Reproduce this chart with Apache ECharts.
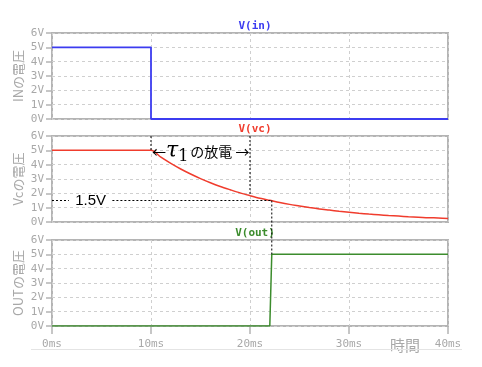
<!DOCTYPE html>
<html><head><meta charset="utf-8">
<script src="https://cdn.jsdelivr.net/npm/echarts@6/dist/echarts.min.js"></script>
<style>html,body{margin:0;padding:0;background:#fff}#c{width:482px;height:367px}</style>
</head><body><div id="c"></div>
<script>
// ---- data ----
const xTicks = [0, 10, 20, 30, 40];          // ms
const yTicks = [0, 1, 2, 3, 4, 5, 6];        // V
const panelTitles = ['V(in)', 'V(vc)', 'V(out)'];
const yNames = ['INの電圧', 'Vcの電圧', 'OUTの電圧'];
const xName = '時間';

const inTime = [0, 10, 10, 40];
const inVolt = [5, 5, 0, 0];

const vcTime = [0, 10, 11, 12, 13, 14, 15, 16, 17, 18, 19, 20, 21, 22, 23, 24, 25, 26, 27, 28, 29, 30, 31, 32, 33, 34, 35, 36, 37, 38, 39, 40];
const vcVolt = [5, 5, 4.52, 4.09, 3.70, 3.35, 3.03, 2.74, 2.48, 2.25, 2.03, 1.84, 1.66, 1.51, 1.36, 1.23, 1.12, 1.01, 0.91, 0.83, 0.75, 0.68, 0.61, 0.55, 0.50, 0.45, 0.41, 0.37, 0.34, 0.30, 0.28, 0.25];

const outTime = [0, 22.0, 22.2, 40];
const outVolt = [0, 0, 5, 5];

// annotation values
const tauStart = 10, tauEnd = 20, tauEndVolt = 1.84;
const crossTime = 22.2, crossVolt = 1.5, outHigh = 5;
const labelGap = [1.7, 6.1];   // ms range where "1.5V" text sits
const crossLabel = '1.5V';

const pairs = (t, v) => t.map((x, i) => [x, v[i]]);

const GRAY = '#b4b4b4';
const LABEL = '#a8a8a8';
const mono = 'DejaVu Sans Mono';
const colors = ['#3c3cf0', '#f03c2d', '#3c8c2d'];
const tops = [33, 136, 240];
const H = 86;

const chart = echarts.init(document.getElementById('c'), null, {renderer: 'canvas'});

const grids = tops.map(t => ({left: 52, top: t, width: 396, height: H, show: true,
  borderColor: GRAY, borderWidth: 2, backgroundColor: 'transparent'}));

const xAxes = tops.map((t, i) => ({
  type: 'value', gridIndex: i, min: xTicks[0], max: xTicks[xTicks.length - 1], interval: 10,
  axisLine: {show: false},
  axisTick: {show: i === 2, length: 8, lineStyle: {color: GRAY, width: 1.5}},
  axisLabel: {show: i === 2, formatter: v => v + 'ms', color: LABEL, fontFamily: mono, fontSize: 11, margin: 13},
  splitLine: {show: true, lineStyle: {color: '#cfcfcf', type: [3, 3], width: 1}}
}));

const yAxes = tops.map((t, i) => ({
  type: 'value', gridIndex: i, min: yTicks[0], max: yTicks[yTicks.length - 1], interval: 1,
  name: yNames[i], nameLocation: 'middle', nameGap: 27, nameMoveOverlap: false,
  nameTextStyle: {color: LABEL, fontSize: 13, fontFamily: 'Noto Sans CJK JP'},
  axisLine: {show: false},
  axisTick: {show: true, length: 6, lineStyle: {color: GRAY, width: 1.5}},
  axisLabel: {formatter: v => v + 'V', color: LABEL, fontFamily: mono, fontSize: 11, margin: 8},
  splitLine: {show: true, lineStyle: {color: '#cfcfcf', type: [3, 3], width: 1}}
}));

const titles = panelTitles.map((s, i) => ({
  text: s, left: 250, top: tops[i] - 17, textAlign: 'center',
  textStyle: {color: colors[i], fontFamily: mono, fontSize: 11, fontWeight: 'bold'}
}));

chart.setOption({
  animation: false,
  backgroundColor: '#fff',
  title: titles,
  grid: grids,
  xAxis: xAxes,
  yAxis: yAxes,
  series: [
    {type: 'line', xAxisIndex: 0, yAxisIndex: 0, data: pairs(inTime, inVolt), symbol: 'none', lineStyle: {color: colors[0], width: 1.8}},
    {type: 'line', xAxisIndex: 1, yAxisIndex: 1, data: pairs(vcTime, vcVolt), symbol: 'none', smooth: 0.3, lineStyle: {color: colors[1], width: 1.5}},
    {type: 'line', xAxisIndex: 2, yAxisIndex: 2, data: pairs(outTime, outVolt), symbol: 'none', lineStyle: {color: colors[2], width: 1.5}}
  ]
});

const P = (g, x, y) => chart.convertToPixel({gridIndex: g}, [x, y]);
const dot = {stroke: '#000', lineWidth: 1, lineDash: [2, 2]};
const seg = (a, b) => ({type: 'line', shape: {x1: a[0], y1: a[1], x2: b[0], y2: b[1]}, style: dot, z: 50});

const a0 = P(1, tauStart, 6), a1 = P(1, tauStart, 5);
const b0 = P(1, tauEnd, 6), b1 = P(1, tauEnd, tauEndVolt);
const h0 = P(1, 0, crossVolt), h1 = P(1, labelGap[0], crossVolt), h2 = P(1, labelGap[1], crossVolt), h3 = P(1, crossTime, crossVolt);
const v0 = P(1, crossTime, crossVolt), v1 = P(2, crossTime, outHigh);
const lbl = P(1, (labelGap[0] + labelGap[1]) / 2, crossVolt);
const tau = P(1, tauStart, 5);

chart.setOption({
  graphic: [
    seg(a0, a1), seg(b0, b1), seg(h0, h1), seg(h2, h3), seg(v0, v1),
    {type: 'text', x: lbl[0], y: lbl[1], z: 60, style: {text: crossLabel, align: 'center', verticalAlign: 'middle', fontSize: 15, fontFamily: 'Liberation Sans', fill: '#000'}},
    {type: 'text', x: tau[0] + 1, y: tau[1] + 1, z: 60, style: {
      text: '{a|←}{t|τ}{s|1}{b|の放電 }{a|→}', verticalAlign: 'middle', align: 'left',
      rich: {
        a: {fontSize: 14, fontFamily: 'Noto Sans CJK JP', color: '#000'},
        t: {fontSize: 22, fontFamily: 'DejaVu Serif', fontStyle: 'italic', color: '#000'},
        s: {fontSize: 16, fontFamily: 'DejaVu Serif', color: '#000', padding: [12, 2, 0, 0]},
        b: {fontSize: 14, fontFamily: 'Noto Sans CJK JP', color: '#000'}
      }
    }},
    {type: 'text', x: 405, y: 345, style: {text: xName, align: 'center', verticalAlign: 'middle', fontSize: 15, fontFamily: 'Noto Sans CJK JP', fill: LABEL}},
    {type: 'line', shape: {x1: 31, y1: 349.5, x2: 462, y2: 349.5}, style: {stroke: '#e4e4e4', lineWidth: 1}}
  ]
});
</script></body></html>
